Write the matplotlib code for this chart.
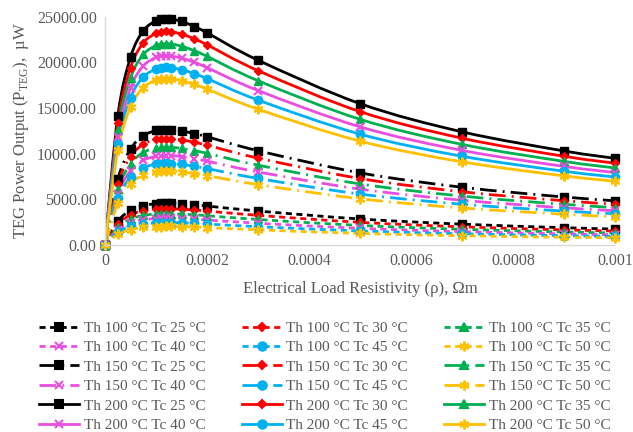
import numpy as np
import matplotlib
matplotlib.use("Agg")
import matplotlib.pyplot as plt
from matplotlib.path import Path
from matplotlib.patches import PathPatch
from matplotlib.lines import Line2D

plt.rcParams['font.family'] = ['Liberation Serif', 'DejaVu Serif']
plt.rcParams['mathtext.fontset'] = 'custom'
plt.rcParams['mathtext.rm'] = 'Liberation Serif'

# load resistivity (ohm m)
rho = [0, 0.000025, 0.00005, 0.000075, 0.0001, 0.00011, 0.00012, 0.00013,
       0.00015, 0.000175, 0.0002, 0.0003, 0.0005, 0.0007, 0.0009, 0.001]

hot_temps = [100, 150, 200]
cold_temps = [25, 30, 35, 40, 45, 50]

# power output in uW, one row per cold side temperature (25..50 C)
power_th100 = [
    [0, 2600, 3783, 4312, 4517, 4546, 4555, 4548, 4499, 4397, 4270, 3718, 2844, 2276, 1891, 1743],
    [0, 2266, 3297, 3758, 3937, 3962, 3970, 3964, 3921, 3832, 3722, 3241, 2478, 1984, 1648, 1519],
    [0, 1952, 2840, 3238, 3392, 3414, 3420, 3415, 3378, 3301, 3206, 2792, 2135, 1709, 1420, 1309],
    [0, 1664, 2421, 2760, 2891, 2909, 2915, 2910, 2879, 2814, 2733, 2380, 1820, 1457, 1210, 1116],
    [0, 1398, 2034, 2319, 2430, 2445, 2450, 2446, 2420, 2365, 2297, 2000, 1530, 1224, 1017, 938],
    [0, 1156, 1682, 1917, 2008, 2021, 2025, 2022, 2000, 1955, 1898, 1653, 1264, 1012, 841, 775],
]
power_th150 = [
    [0, 7219, 10505, 11976, 12545, 12626, 12650, 12630, 12494, 12210, 11859, 10326, 7897, 6321, 5252, 4841],
    [0, 6654, 9682, 11039, 11563, 11638, 11660, 11641, 11517, 11254, 10931, 9518, 7279, 5827, 4841, 4462],
    [0, 6112, 8894, 10139, 10621, 10690, 10710, 10693, 10578, 10337, 10041, 8743, 6686, 5352, 4447, 4099],
    [0, 5593, 8138, 9278, 9719, 9781, 9800, 9784, 9679, 9459, 9188, 8000, 6118, 4897, 4069, 3750],
    [0, 5096, 7415, 8454, 8856, 8913, 8930, 8916, 8820, 8619, 8372, 7290, 5575, 4462, 3708, 3418],
    [0, 4623, 6726, 7668, 8033, 8085, 8100, 8087, 8000, 7818, 7594, 6612, 5057, 4048, 3363, 3100],
]
power_th200 = [
    [0, 14153, 20594, 23478, 24594, 24753, 24800, 24760, 24495, 23937, 23250, 20244, 15483, 12393, 10297, 9491],
    [0, 13354, 19431, 22153, 23206, 23356, 23400, 23363, 23112, 22586, 21938, 19101, 14609, 11693, 9716, 8955],
    [0, 12584, 18310, 20875, 21867, 22008, 22050, 22015, 21779, 21283, 20672, 17999, 13766, 11018, 9155, 8438],
    [0, 11831, 17214, 19625, 20558, 20691, 20730, 20697, 20475, 20009, 19434, 16922, 12942, 10359, 8607, 7933],
    [0, 11100, 16151, 18413, 19289, 19413, 19450, 19419, 19211, 18773, 18234, 15877, 12143, 9719, 8076, 7443],
    [0, 10398, 15130, 17249, 18069, 18185, 18220, 18191, 17996, 17586, 17081, 14873, 11375, 9105, 7565, 6973],
]

colors = ['#000000', '#ff0000', '#00b050', '#e84fe0', '#00b0f0', '#ffc000']
markers = ['s', 'D', '^', 'x', 'o', (6, 2, 0)]
msizes = [6, 4.5, 6, 6, 6, 7]
styles = {100: (0, (2.2, 1.6)), 150: (0, (6, 2.2, 0.7, 2.2)), 200: '-'}
text_grey = '#595959'


def smooth_path(x, y):
    # cubic bezier through the points, similar to a spreadsheet "smoothed line"
    pts = np.column_stack([x, y]).astype(float)
    n = len(pts)
    verts = [pts[0]]
    codes = [Path.MOVETO]
    for i in range(n - 1):
        p0 = pts[i - 1] if i > 0 else pts[i]
        p1 = pts[i]
        p2 = pts[i + 1]
        p3 = pts[i + 2] if i + 2 < n else pts[i + 1]
        verts += [p1 + (p2 - p0) / 6, p2 - (p3 - p1) / 6, p2]
        codes += [Path.CURVE4] * 3
    return Path(verts, codes)


fig = plt.figure(figsize=(6.33, 4.32), dpi=100)
ax = fig.add_axes([0.166, 0.433, 0.806, 0.528])

handles = []
labels = []
for th, block in zip(hot_temps, [power_th100, power_th150, power_th200]):
    for k, tc in enumerate(cold_temps):
        vals = block[k]
        patch = PathPatch(smooth_path(rho, vals), facecolor='none', edgecolor=colors[k],
                          lw=2, linestyle=styles[th], capstyle='butt')
        ax.add_patch(patch)
        mk = markers[k]
        ax.plot(rho, vals, linestyle='none', marker=mk, ms=msizes[k], color=colors[k],
                mew=1.5 if mk in ('x',) or isinstance(mk, tuple) else 1, clip_on=False)
        handles.append(Line2D([], [], color=colors[k], lw=2, linestyle=styles[th],
                              marker=mk, ms=msizes[k], mew=1.5))
        labels.append('Th %d \u00b0C Tc %d \u00b0C' % (th, tc))

ax.set_xlim(0, 0.001)
ax.set_ylim(0, 25000)
ax.set_xticks([0, 0.0002, 0.0004, 0.0006, 0.0008, 0.001])
ax.set_xticklabels(['0', '0.0002', '0.0004', '0.0006', '0.0008', '0.001'])
ax.set_yticks(np.arange(0, 25001, 5000))
ax.set_yticklabels(['%.2f' % v for v in np.arange(0, 25001, 5000)])
ax.tick_params(length=0, labelsize=11.5, colors=text_grey, pad=6)
for side in ['top', 'right']:
    ax.spines[side].set_visible(False)
for side in ['left', 'bottom']:
    ax.spines[side].set_color('#d9d9d9')
    ax.spines[side].set_linewidth(1)

ax.set_xlabel('Electrical Load Resistivity (\u03c1), \u03a9m', fontsize=12, color=text_grey, labelpad=8.5)
ax.set_ylabel('TEG Power Output (P$_{\\mathrm{TEG}}$),  \u00b5W', fontsize=12, color=text_grey, labelpad=4)

# legend laid out row by row, three entries per row
order = [r * 3 + c for c in range(3) for r in range(6)]
fig.legend([handles[i] for i in order], [labels[i] for i in order],
           loc='upper left', bbox_to_anchor=(0.05, 0.274), ncol=3, frameon=False,
           fontsize=11, handlelength=2.6, handletextpad=0.3, columnspacing=2.4,
           labelspacing=0.375, borderpad=0, labelcolor=text_grey)

fig.savefig('out.png', dpi=100)
